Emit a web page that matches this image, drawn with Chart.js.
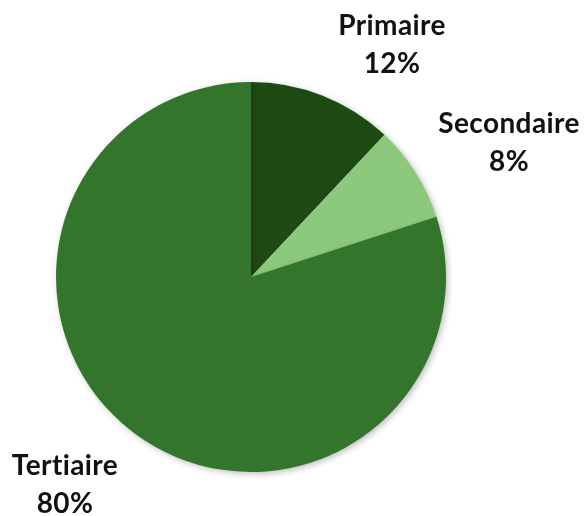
<!DOCTYPE html>
<html>
<head>
<meta charset="utf-8">
<script src="https://cdn.jsdelivr.net/npm/chart.js@4/dist/chart.umd.min.js"></script>
<style>
  html, body { margin: 0; padding: 0; background: #fff; }
  #wrap { width: 586px; height: 516px; }
</style>
</head>
<body>
<div id="wrap"><canvas id="chart"></canvas></div>
<script>
const LABELS = ["Primaire", "Secondaire", "Tertiaire"];
const VALUES = [12, 8, 80];
const COLORS = ["#1e4b14", "#8dc97c", "#33762b"];

// where each two-line label sits (centre of the text block)
const LABEL_POS = [
  { x: 392, y: 45 },
  { x: 509, y: 143 },
  { x: 65, y: 485 },
];

const shadowPlugin = {
  id: "shadow",
  beforeDatasetsDraw(chart) {
    const ctx = chart.ctx;
    ctx.save();
    ctx.shadowColor = "rgba(0,0,0,0.25)";
    ctx.shadowBlur = 6;
    ctx.shadowOffsetX = 2;
    ctx.shadowOffsetY = 2;
  },
  afterDatasetsDraw(chart) {
    chart.ctx.restore();
  },
};

const labelPlugin = {
  id: "outLabels",
  afterDraw(chart) {
    const ctx = chart.ctx;
    const data = chart.data.datasets[0].data;
    const total = data.reduce((a, b) => a + b, 0);
    ctx.save();
    ctx.fillStyle = "#111";
    ctx.font = "bold 28px Lato";
    ctx.letterSpacing = "0.4px";
    ctx.textAlign = "center";
    ctx.textBaseline = "middle";
    chart.data.labels.forEach((label, i) => {
      const p = LABEL_POS[i];
      const pct = Math.round((data[i] / total) * 100) + "%";
      ctx.fillText(label, p.x, p.y - 19);
      ctx.fillText(pct, p.x, p.y + 19);
    });
    ctx.restore();
  },
};

new Chart(document.getElementById("chart"), {
  type: "pie",
  data: {
    labels: LABELS,
    datasets: [
      {
        data: VALUES,
        backgroundColor: COLORS,
        borderWidth: 0,
      },
    ],
  },
  options: {
    responsive: true,
    maintainAspectRatio: false,
    animation: false,
    layout: { padding: { left: 56, right: 140, top: 82, bottom: 44 } },
    plugins: {
      legend: { display: false },
      tooltip: { enabled: false },
    },
  },
  plugins: [shadowPlugin, labelPlugin],
});
</script>
</body>
</html>
